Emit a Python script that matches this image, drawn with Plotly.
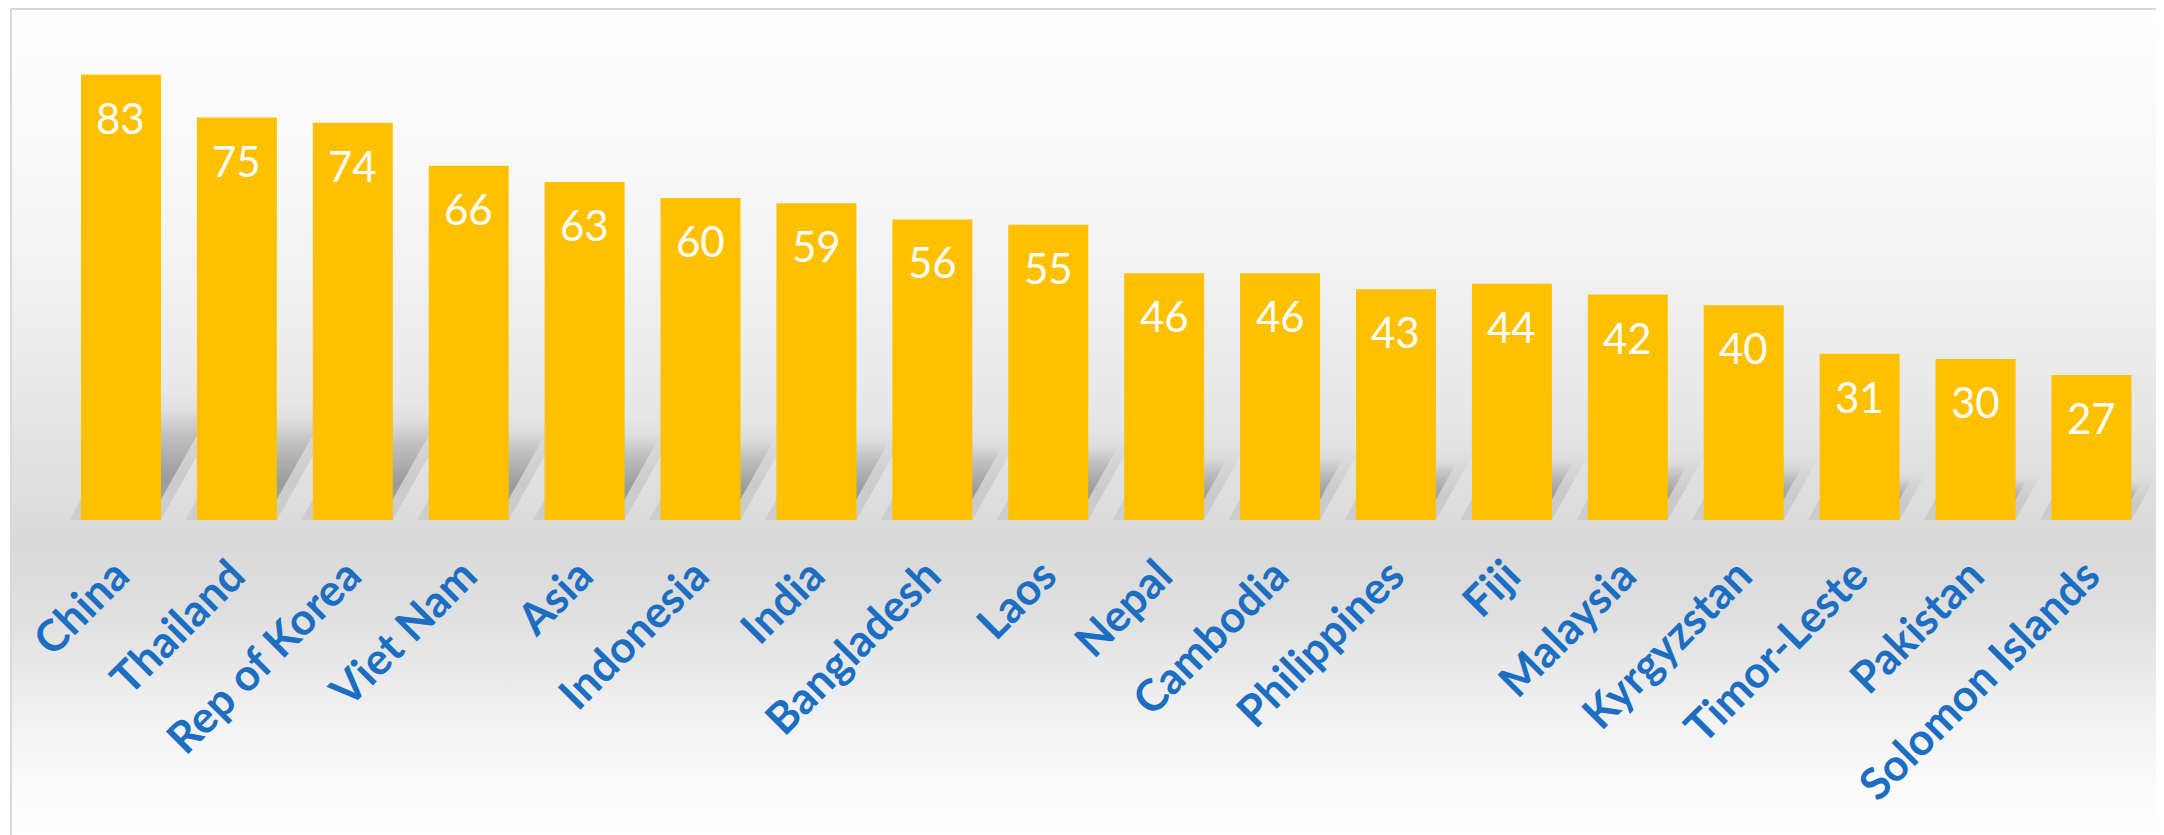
import base64
import plotly.graph_objects as go

# ---------------- data ----------------
countries = ["China", "Thailand", "Rep of Korea", "Viet Nam", "Asia", "Indonesia",
             "India", "Bangladesh", "Laos", "Nepal", "Cambodia", "Philippines",
             "Fiji", "Malaysia", "Kyrgyzstan", "Timor-Leste", "Pakistan",
             "Solomon Islands"]
values = [83, 75, 74, 66, 63, 60, 59, 56, 55, 46, 46, 43, 44, 42, 40, 31, 30, 27]

# ---------------- style ----------------
W, H = 2156, 827          # page body has an 8px margin
ML, MR, MT, MB = 55, 3, 29, 315
BAR_COLOR = "#FFC000"
TICK_COLOR = "#1B6EC2"
XRANGE = [-0.5, 17.6]
YRANGE = [0, 90]
BARGAP = 0.31
HALF = (1 - BARGAP) / 2
LABEL_SHIFT = 0.04       # tick labels slightly left of bar centres
SHADOW_RATIO = 0.25      # shadow height relative to bar value
SHADOW_SKEW = 0.026      # horizontal skew (categories per value unit)

pw = W - ML - MR
ph = H - MT - MB

# background gradient + frame as an SVG
svg = f'''<svg xmlns="http://www.w3.org/2000/svg" width="{W}" height="{H}" viewBox="0 0 {W} {H}" preserveAspectRatio="none">
<defs><linearGradient id="g" x1="0" y1="0" x2="0" y2="1">
<stop offset="0" stop-color="#ffffff"/>
<stop offset="0.22" stop-color="#f7f7f7"/>
<stop offset="0.45" stop-color="#e9e9e9"/>
<stop offset="0.64" stop-color="#d9d9d9"/>
<stop offset="0.72" stop-color="#dedede"/>
<stop offset="0.84" stop-color="#efefef"/>
<stop offset="0.95" stop-color="#fcfcfc"/>
<stop offset="1" stop-color="#ffffff"/>
</linearGradient></defs>
<rect x="0" y="0" width="{W}" height="{H}" fill="#ffffff"/>
<rect x="4" y="2" width="{W}" height="{H}" fill="url(#g)"/>
<line x1="3" y1="1" x2="{W}" y2="1" stroke="#d9d9d9" stroke-width="2"/>
<line x1="3" y1="1" x2="3" y2="{H}" stroke="#d9d9d9" stroke-width="2"/>
</svg>'''
src = "data:image/svg+xml;base64," + base64.b64encode(svg.encode()).decode()

fig = go.Figure()

# shadows (base subplot, below the bars): a soft halo and a core
for i, v in enumerate(values):
    h = SHADOW_RATIO * v
    dx = SHADOW_SKEW * h
    for grow, alpha in ((0.10, 0.09), (0.0, 0.24)):
        xl, xr = i - HALF - grow, i + HALF - 0.10 + grow
        hh = h * (1 + grow * 2)
        dd = dx * (1 + grow * 2)
        fig.add_trace(go.Scatter(
            x=[xl, xr, xr + dd, xl + dd, xl],
            y=[0, 0, hh, hh, 0],
            mode="lines", line=dict(width=0), fill="toself",
            fillgradient=dict(type="vertical", colorscale=[
                [0, f"rgba(0,0,0,{alpha*0.7:.3f})"],
                [0.35, f"rgba(0,0,0,{alpha:.3f})"],
                [0.75, f"rgba(0,0,0,{alpha*0.45:.3f})"],
                [1, "rgba(0,0,0,0)"]]),
            hoverinfo="skip", showlegend=False, xaxis="x", yaxis="y"))

# bars (overlaid subplot, drawn on top)
fig.add_trace(go.Bar(
    x=list(range(len(countries))), y=values, width=1 - BARGAP,
    marker=dict(color=BAR_COLOR, line=dict(width=0)),
    showlegend=False, xaxis="x2", yaxis="y2"))

# value labels
for i, v in enumerate(values):
    fig.add_annotation(x=i, y=v, xref="x2", yref="y2", text=str(v),
                       showarrow=False, yanchor="middle", yshift=-43,
                       font=dict(family="Lato", size=42, color="white"))

fig.update_layout(
    width=W, height=H,
    margin=dict(l=ML, r=MR, t=MT, b=MB),
    paper_bgcolor="rgba(0,0,0,0)", plot_bgcolor="rgba(0,0,0,0)",
    showlegend=False,
    xaxis=dict(range=XRANGE, tickmode="array",
               tickvals=[i - LABEL_SHIFT for i in range(len(countries))],
               ticktext=countries,
               tickangle=-45, showgrid=False, zeroline=False, showline=False,
               ticks="", ticklabelstandoff=20,
               tickfont=dict(family="Lato", size=44, color=TICK_COLOR,
                             weight="bold")),
    yaxis=dict(range=YRANGE, visible=False, showgrid=False, zeroline=False),
    xaxis2=dict(range=XRANGE, overlaying="x", visible=False, showgrid=False,
                zeroline=False),
    yaxis2=dict(range=YRANGE, overlaying="y", visible=False, showgrid=False,
                zeroline=False),
    images=[dict(source=src, xref="paper", yref="paper",
                 x=-ML / pw, y=1 + MT / ph, sizex=W / pw, sizey=H / ph,
                 xanchor="left", yanchor="top", sizing="stretch",
                 layer="below")],
)

fig.write_html("out.html")
